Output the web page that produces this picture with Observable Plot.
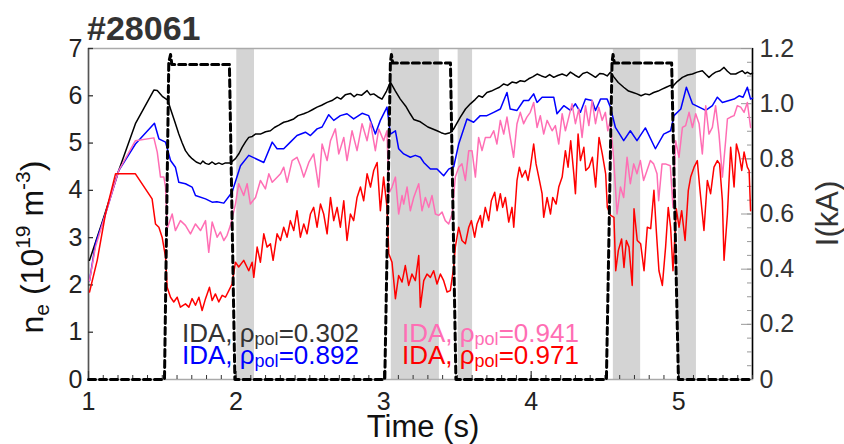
<!DOCTYPE html>
<html>
<head>
<meta charset="utf-8">
<script src="https://cdn.jsdelivr.net/npm/d3@7"></script>
<script src="https://cdn.jsdelivr.net/npm/@observablehq/plot@0.6"></script>
<style>
  html, body { margin: 0; padding: 0; background: #fff; }
  #chart { width: 844px; height: 444px; }
</style>
</head>
<body>
<div id="chart"></div>
<script>
// Shot #28061: IDA electron density at four radii, with the coil current (dashed, right axis)

const shotLabel = "#28061";
const timeDomain = [1, 5.5];
const neMax = 7;      // left axis, 10^19 m^-3
const currentMax = 1.2; // right axis, kA

// [time (s), n_e (10^19 m^-3)]
const neRho0302 = [
  [1.007,2.52],[1.096,3.36],[1.205,4.42],[1.318,5.41],[1.443,6.12],[1.466,6.11],[1.50,5.99],[1.537,5.91],
  [1.556,5.72],[1.585,5.45],[1.612,5.19],[1.635,5.0],[1.657,4.84],[1.68,4.74],[1.702,4.67],[1.73,4.60],
  [1.759,4.56],[1.775,4.62],[1.793,4.57],[1.815,4.55],[1.838,4.60],[1.86,4.55],[1.883,4.58],[1.906,4.55],
  [1.928,4.58],[1.962,4.58],[1.996,4.67],[2.02,4.78],[2.041,4.91],[2.065,5.03],[2.086,5.12],[2.11,5.14],
  [2.131,5.19],[2.165,5.19],[2.2,5.24],[2.233,5.26],[2.26,5.33],[2.29,5.38],[2.323,5.44],[2.35,5.46],
  [2.391,5.51],[2.42,5.58],[2.459,5.62],[2.49,5.66],[2.52,5.71],[2.549,5.76],[2.58,5.80],[2.617,5.86],
  [2.65,5.90],[2.685,5.97],[2.71,5.93],[2.74,6.02],[2.775,6.05],[2.80,5.98],[2.82,6.03],[2.85,6.01],
  [2.888,6.11],[2.91,6.02],[2.933,6.04],[2.96,5.98],[2.989,5.93],[3.02,6.10],[3.046,6.29],[3.08,6.10],
  [3.113,5.93],[3.15,5.78],[3.18,5.62],[3.204,5.50],[3.249,5.45],[3.30,5.34],[3.362,5.26],[3.39,5.22],
  [3.418,5.19],[3.45,5.22],[3.475,5.30],[3.52,5.55],[3.555,5.72],[3.588,5.83],[3.62,5.92],[3.645,6.0],
  [3.67,5.97],[3.70,6.07],[3.73,6.10],[3.757,6.14],[3.785,6.18],[3.814,6.25],[3.84,6.22],[3.87,6.29],
  [3.90,6.27],[3.927,6.32],[3.955,6.30],[3.983,6.36],[4.01,6.40],[4.04,6.46],[4.07,6.42],[4.097,6.39],
  [4.125,6.45],[4.153,6.39],[4.18,6.43],[4.21,6.46],[4.24,6.42],[4.266,6.50],[4.295,6.44],[4.323,6.39],
  [4.35,6.47],[4.379,6.50],[4.41,6.44],[4.436,6.39],[4.465,6.47],[4.492,6.46],[4.515,6.42],[4.537,6.50],
  [4.56,6.40],[4.59,6.28],[4.627,6.18],[4.66,6.10],[4.69,6.07],[4.717,6.04],[4.745,6.0],[4.774,6.04],
  [4.80,6.02],[4.83,6.07],[4.86,6.10],[4.887,6.14],[4.915,6.18],[4.943,6.22],[4.96,6.20],[4.99,6.30],
  [5.025,6.39],[5.06,6.44],[5.093,6.46],[5.125,6.50],[5.16,6.53],[5.185,6.45],[5.205,6.39],[5.23,6.46],
  [5.25,6.50],[5.28,6.53],[5.307,6.60],[5.33,6.52],[5.352,6.46],[5.386,6.46],[5.41,6.50],[5.431,6.53],
  [5.45,6.47],[5.465,6.50],[5.487,6.46],[5.5,6.48]
];

const neRho0892 = [
  [1.007,2.09],[1.047,2.87],[1.115,3.50],[1.205,4.42],[1.318,4.98],[1.447,5.42],[1.477,5.09],[1.522,5.02],
  [1.556,4.63],[1.589,4.49],[1.612,4.17],[1.657,4.14],[1.702,4.07],[1.725,3.89],[1.793,3.82],[1.838,3.75],
  [1.87,3.76],[1.917,3.73],[1.973,3.96],[2.03,4.52],[2.086,4.74],[2.188,4.59],[2.245,5.02],[2.278,4.88],
  [2.323,4.88],[2.368,5.02],[2.413,5.16],[2.47,5.23],[2.504,5.16],[2.549,5.30],[2.583,5.34],[2.628,5.60],
  [2.662,5.48],[2.707,5.58],[2.752,5.62],[2.797,5.51],[2.854,5.63],[2.899,5.58],[2.944,5.19],[2.978,5.48],
  [3.023,5.76],[3.046,5.19],[3.08,5.26],[3.102,4.88],[3.136,4.77],[3.181,4.70],[3.215,4.74],[3.249,4.70],
  [3.272,4.59],[3.317,4.45],[3.362,4.45],[3.407,4.31],[3.441,4.45],[3.475,4.50],[3.509,4.98],[3.565,5.51],
  [3.61,5.44],[3.655,5.58],[3.70,5.58],[3.746,5.65],[3.791,5.72],[3.836,6.07],[3.858,5.72],[3.904,5.69],
  [3.949,5.90],[3.983,5.90],[4.017,6.04],[4.04,5.86],[4.074,5.97],[4.108,5.97],[4.153,5.97],[4.175,5.62],
  [4.221,5.79],[4.266,5.69],[4.30,5.83],[4.334,5.65],[4.368,5.93],[4.413,5.90],[4.436,5.69],[4.47,5.93],
  [4.515,5.93],[4.537,5.76],[4.571,5.33],[4.627,5.05],[4.672,5.26],[4.717,5.05],[4.774,5.32],[4.842,4.88],
  [4.898,5.19],[4.945,5.26],[4.968,5.58],[5.014,5.72],[5.052,6.18],[5.093,5.83],[5.138,5.76],[5.183,5.69],
  [5.228,5.79],[5.262,5.97],[5.296,5.86],[5.341,5.90],[5.375,5.93],[5.409,6.0],[5.436,5.97],[5.465,6.18],
  [5.487,5.93],[5.5,5.95]
];

const neRho0941 = [
  [1.007,2.09],[1.047,2.80],[1.115,3.50],[1.205,4.42],[1.318,5.05],[1.443,5.11],[1.466,4.81],[1.488,4.28],
  [1.511,4.28],[1.522,4.07],[1.533,3.19],[1.567,3.50],[1.589,3.15],[1.623,3.36],[1.657,3.26],[1.691,3.08],
  [1.725,3.29],[1.759,3.15],[1.793,3.36],[1.815,2.69],[1.838,3.33],[1.872,3.01],[1.894,3.12],[1.917,2.94],
  [1.939,3.05],[1.962,3.26],[1.996,3.71],[2.018,4.14],[2.052,3.89],[2.075,4.14],[2.097,3.71],[2.132,3.85],
  [2.165,4.21],[2.199,4.03],[2.222,4.35],[2.245,4.17],[2.267,4.24],[2.301,4.35],[2.323,4.49],[2.346,4.17],
  [2.38,4.63],[2.413,4.70],[2.436,4.52],[2.459,4.28],[2.493,4.59],[2.526,4.77],[2.56,4.07],[2.583,4.98],
  [2.617,4.63],[2.64,5.05],[2.673,5.30],[2.696,4.77],[2.73,5.12],[2.752,4.63],[2.786,5.26],[2.82,4.84],
  [2.854,5.41],[2.888,5.05],[2.911,5.44],[2.944,4.84],[2.967,5.30],[3.0,5.05],[3.023,5.26],[3.035,3.93],
  [3.057,4.07],[3.08,4.28],[3.102,3.50],[3.125,3.89],[3.136,3.71],[3.159,4.07],[3.181,3.57],[3.204,3.85],
  [3.238,4.14],[3.26,3.57],[3.283,3.85],[3.306,3.64],[3.328,3.89],[3.351,3.50],[3.373,3.47],[3.396,3.54],
  [3.418,3.36],[3.441,3.29],[3.464,3.50],[3.486,4.28],[3.509,4.49],[3.531,4.56],[3.554,4.21],[3.577,4.84],
  [3.599,4.84],[3.622,4.28],[3.644,5.12],[3.667,4.84],[3.69,5.12],[3.723,5.12],[3.746,5.26],[3.768,4.98],
  [3.791,5.48],[3.814,5.19],[3.836,5.55],[3.858,5.12],[3.881,4.70],[3.904,5.41],[3.926,5.65],[3.949,5.41],
  [3.971,5.55],[3.994,5.65],[4.017,5.86],[4.04,5.33],[4.062,5.58],[4.085,5.19],[4.108,5.48],[4.142,5.26],
  [4.164,5.37],[4.187,4.98],[4.21,5.62],[4.232,5.26],[4.255,5.55],[4.277,5.83],[4.30,5.41],[4.323,5.72],
  [4.345,5.12],[4.368,5.79],[4.391,5.37],[4.413,5.90],[4.436,5.41],[4.458,5.76],[4.481,5.48],[4.503,5.65],
  [4.519,5.26],[4.537,5.48],[4.56,4.63],[4.582,3.50],[4.605,4.07],[4.627,3.85],[4.65,4.70],[4.672,4.14],
  [4.695,4.56],[4.717,4.35],[4.74,4.63],[4.762,4.21],[4.785,4.42],[4.808,4.63],[4.83,4.56],[4.853,4.35],
  [4.864,3.78],[4.887,4.56],[4.91,4.56],[4.943,4.52],[4.961,3.64],[4.979,5.05],[5.002,4.70],[5.025,5.33],
  [5.047,5.37],[5.07,5.65],[5.093,5.33],[5.115,5.62],[5.138,5.41],[5.16,4.77],[5.183,5.79],[5.205,5.19],
  [5.228,5.33],[5.25,5.79],[5.273,5.19],[5.296,4.28],[5.318,5.05],[5.33,5.51],[5.352,5.55],[5.375,5.58],
  [5.397,5.79],[5.42,5.76],[5.443,5.65],[5.465,5.86],[5.487,5.33]
];

const neRho0971 = [
  [1.007,1.85],[1.059,2.52],[1.115,3.50],[1.183,4.35],[1.318,4.35],[1.431,3.82],[1.454,3.29],[1.477,3.22],
  [1.499,3.01],[1.522,2.59],[1.533,1.95],[1.556,1.74],[1.578,1.64],[1.601,1.74],[1.623,1.53],[1.657,1.60],
  [1.68,1.53],[1.702,1.71],[1.725,1.57],[1.748,1.74],[1.77,1.46],[1.793,1.71],[1.82,1.95],[1.838,1.67],
  [1.86,1.81],[1.883,1.64],[1.906,1.78],[1.928,1.74],[1.951,1.88],[1.973,2.02],[1.996,2.48],[2.018,2.38],
  [2.052,2.52],[2.086,2.30],[2.109,2.48],[2.12,2.16],[2.143,2.80],[2.165,2.48],[2.188,3.08],[2.21,2.80],
  [2.233,2.87],[2.251,2.52],[2.278,3.08],[2.301,2.94],[2.323,3.22],[2.346,3.01],[2.368,3.36],[2.391,3.15],
  [2.413,3.57],[2.436,3.01],[2.459,3.29],[2.481,3.08],[2.504,3.50],[2.526,3.64],[2.549,3.22],[2.572,3.71],
  [2.594,3.50],[2.617,3.08],[2.64,3.85],[2.662,3.36],[2.685,3.64],[2.707,3.22],[2.73,3.78],[2.752,2.94],
  [2.775,3.50],[2.797,3.36],[2.82,3.85],[2.843,4.07],[2.865,3.78],[2.888,4.35],[2.911,4.07],[2.933,4.42],
  [2.956,4.59],[2.978,3.57],[3.0,4.28],[3.023,3.64],[3.035,2.66],[3.057,2.48],[3.08,1.71],[3.102,2.20],
  [3.125,2.06],[3.147,2.41],[3.17,1.99],[3.192,2.23],[3.215,2.09],[3.238,2.62],[3.249,1.53],[3.272,2.09],
  [3.294,2.23],[3.317,2.16],[3.339,2.30],[3.362,2.02],[3.385,2.23],[3.407,2.09],[3.43,1.85],[3.452,1.88],
  [3.475,2.37],[3.486,2.80],[3.509,3.22],[3.531,2.94],[3.554,2.87],[3.577,3.22],[3.595,3.36],[3.617,3.01],
  [3.633,3.29],[3.656,3.47],[3.667,3.22],[3.689,3.64],[3.712,3.36],[3.73,3.78],[3.753,3.96],[3.769,3.57],
  [3.791,3.93],[3.807,3.64],[3.825,3.85],[3.848,3.33],[3.87,3.64],[3.882,3.22],[3.904,4.21],[3.92,4.49],
  [3.938,4.28],[3.961,4.42],[3.979,4.21],[3.995,4.49],[4.017,4.98],[4.033,4.56],[4.056,4.21],[4.074,3.93],
  [4.085,3.43],[4.108,3.85],[4.131,3.50],[4.146,3.85],[4.169,3.71],[4.187,4.07],[4.21,4.28],[4.232,4.84],
  [4.25,4.49],[4.268,5.05],[4.289,4.35],[4.30,3.93],[4.318,5.19],[4.334,4.63],[4.357,4.91],[4.37,4.42],
  [4.392,4.49],[4.415,4.70],[4.437,4.07],[4.46,5.12],[4.482,4.77],[4.505,4.35],[4.516,3.64],[4.539,3.47],
  [4.561,3.43],[4.573,2.30],[4.591,2.73],[4.613,2.97],[4.629,2.37],[4.645,2.94],[4.663,2.80],[4.685,1.99],
  [4.697,3.61],[4.719,2.94],[4.742,2.87],[4.765,2.30],[4.787,3.22],[4.81,3.19],[4.832,4.0],[4.848,3.15],
  [4.866,2.30],[4.889,1.99],[4.911,2.80],[4.929,3.64],[4.945,3.22],[4.961,2.30],[4.984,3.61],[5.002,3.22],
  [5.02,3.57],[5.043,2.94],[5.065,4.0],[5.081,4.28],[5.104,4.49],[5.126,4.63],[5.142,4.07],[5.16,3.50],
  [5.171,3.15],[5.194,4.21],[5.216,3.93],[5.239,4.49],[5.262,4.63],[5.277,4.56],[5.296,3.78],[5.307,2.52],
  [5.33,3.50],[5.352,4.91],[5.375,4.07],[5.391,4.98],[5.409,4.77],[5.427,4.42],[5.443,4.81],[5.465,4.49],
  [5.477,4.42],[5.487,3.57]
];

// [time (s), current (kA)]
const coilCurrent = [
  [1.0,0],[1.515,0],[1.544,1.15],[1.556,1.178],[1.565,1.142],[1.955,1.142],[1.992,0],
  [3.008,0],[3.046,1.15],[3.053,1.178],[3.062,1.147],[3.453,1.147],[3.49,0],
  [4.51,0],[4.548,1.15],[4.555,1.178],[4.564,1.147],[4.952,1.147],[4.998,0],[5.5,0]
];

// shaded time windows [start, end] (s)
const shadedWindows = [[2.005,2.125],[3.052,3.378],[3.505,3.603],[4.557,4.742],[4.997,5.12]];

// axis ticks
const timeTicks = [1, 2, 3, 4, 5];
const timeMinorTicks = d3.range(10, 56).map(v => v / 10);
const neTicks = [0, 1, 2, 3, 4, 5, 6, 7];
const currentTicks = [0, 0.2, 0.4, 0.6, 0.8, 1.0, 1.2];
const currentMinorTicks = d3.range(0, 25).map(v => v * 0.05);
const currentTickLabels = ["0", "0.2", "0.4", "0.6", "0.8", "1.0", "1.2"];

// legend entries
const legendRows = [
  {rho: "0.302", color: "#333333", col: 0, row: 0},
  {rho: "0.892", color: "#0000ff", col: 0, row: 1},
  {rho: "0.941", color: "#ff6eb4", col: 1, row: 0},
  {rho: "0.971", color: "#ff0000", col: 1, row: 1}
];

const toNe = kA => kA * neMax / currentMax;

const W = 844, H = 444;
const mL = 88, mR = 92, mT = 48, mB = 65;
const plotW = W - mL - mR, plotH = H - mT - mB;

const chart = Plot.plot({
  width: W,
  height: H,
  marginLeft: mL,
  marginRight: mR,
  marginTop: mT,
  marginBottom: mB,
  style: {
    fontFamily: "'Liberation Sans', Arial, Helvetica, sans-serif",
    fontSize: "25px",
    color: "#222",
    background: "#fff",
    overflow: "visible"
  },
  x: {domain: timeDomain},
  y: {domain: [0, neMax]},
  marks: [
    Plot.rect(shadedWindows, {x1: d => d[0], x2: d => d[1], fill: "#d4d4d4"}),
    Plot.frame({stroke: "#aaaaaa", strokeWidth: 1.5}),
    Plot.ruleX([timeDomain[0]], {stroke: "#555", strokeWidth: 1.5}),
    Plot.ruleX([timeDomain[1]], {stroke: "#000", strokeWidth: 1.5}),

    // inward ticks
    Plot.tickY(neTicks, {y: d => d, insetRight: plotW - 5, stroke: "#333", strokeWidth: 1.3}),
    Plot.tickY(currentMinorTicks.map(toNe), {y: d => d, insetLeft: plotW - 5, stroke: "#999", strokeWidth: 1}),
    Plot.tickY(currentTicks.map(toNe), {y: d => d, insetLeft: plotW - 11, stroke: "#999", strokeWidth: 1}),
    Plot.tickX(timeMinorTicks, {x: d => d, insetTop: plotH - 4, stroke: "#333", strokeWidth: 1}),
    Plot.tickX(timeTicks, {x: d => d, insetTop: plotH - 8, stroke: "#333", strokeWidth: 1.2}),

    // tick labels
    Plot.axisX(timeTicks, {anchor: "bottom", tickSize: 0, tickPadding: 13, tickFormat: d => String(d), label: null}),
    Plot.axisY(neTicks, {anchor: "left", tickSize: 0, tickPadding: 6, tickFormat: d => String(d), label: null}),
    Plot.axisY(currentTicks.map(toNe), {
      anchor: "right", tickSize: 0, tickPadding: 7, label: null, fill: "#333",
      tickFormat: d => currentTickLabels[currentTicks.findIndex(v => Math.abs(toNe(v) - d) < 1e-6)]
    }),

    // density traces
    Plot.line(neRho0302, {x: d => d[0], y: d => d[1], stroke: "#000", strokeWidth: 1.5}),
    Plot.line(neRho0892, {x: d => d[0], y: d => d[1], stroke: "#0000ff", strokeWidth: 1.5}),
    Plot.line(neRho0941, {x: d => d[0], y: d => d[1], stroke: "#ff6eb4", strokeWidth: 1.5}),
    Plot.line(neRho0971, {x: d => d[0], y: d => d[1], stroke: "#ff0000", strokeWidth: 1.5}),

    // coil current on the right-hand scale
    Plot.line(coilCurrent, {x: d => d[0], y: d => toNe(d[1]), stroke: "#000", strokeWidth: 3, strokeDasharray: "7,4"})
  ]
});

document.getElementById("chart").appendChild(chart);

// titles and legend with sub/superscripts
const svg = d3.select(chart);
const font = "'Liberation Sans', Arial, Helvetica, sans-serif";

svg.append("text")
  .attr("x", 87).attr("y", 40)
  .attr("text-anchor", "start")
  .attr("font-family", font).attr("font-size", 34).attr("font-weight", "bold")
  .attr("fill", "#333").text(shotLabel);

svg.append("text")
  .attr("x", mL + plotW / 2 + 3).attr("y", 437)
  .attr("text-anchor", "middle")
  .attr("font-family", font).attr("font-size", 31).attr("fill", "#111")
  .text("Time (s)");

svg.append("text")
  .attr("transform", `translate(838,${mT + plotH / 2}) rotate(-90)`)
  .attr("text-anchor", "middle")
  .attr("font-family", font).attr("font-size", 31).attr("fill", "#333")
  .text("I(kA)");

const neTitle = svg.append("text")
  .attr("transform", `translate(43,247) rotate(-90)`)
  .attr("text-anchor", "middle")
  .attr("font-family", font).attr("font-size", 32).attr("fill", "#111");
neTitle.append("tspan").text("n");
neTitle.append("tspan").attr("dy", 6).attr("font-size", 21).text("e");
neTitle.append("tspan").attr("dy", -6).text(" (10");
neTitle.append("tspan").attr("dy", -13).attr("font-size", 21).text("19");
neTitle.append("tspan").attr("dy", 13).text(" m");
neTitle.append("tspan").attr("dy", -13).attr("font-size", 21).text("-3");
neTitle.append("tspan").attr("dy", 13).text(")");

const legendX = [182, 402], legendY = [342, 364];
for (const r of legendRows) {
  const t = svg.append("text")
    .attr("x", legendX[r.col]).attr("y", legendY[r.row])
    .attr("text-anchor", "start")
    .attr("font-family", font).attr("font-size", 26).attr("fill", r.color);
  t.append("tspan").text("IDA, ρ");
  t.append("tspan").attr("dy", 3).attr("font-size", 18).text("pol");
  t.append("tspan").attr("dy", -3).text("=" + r.rho);
}
</script>
</body>
</html>
